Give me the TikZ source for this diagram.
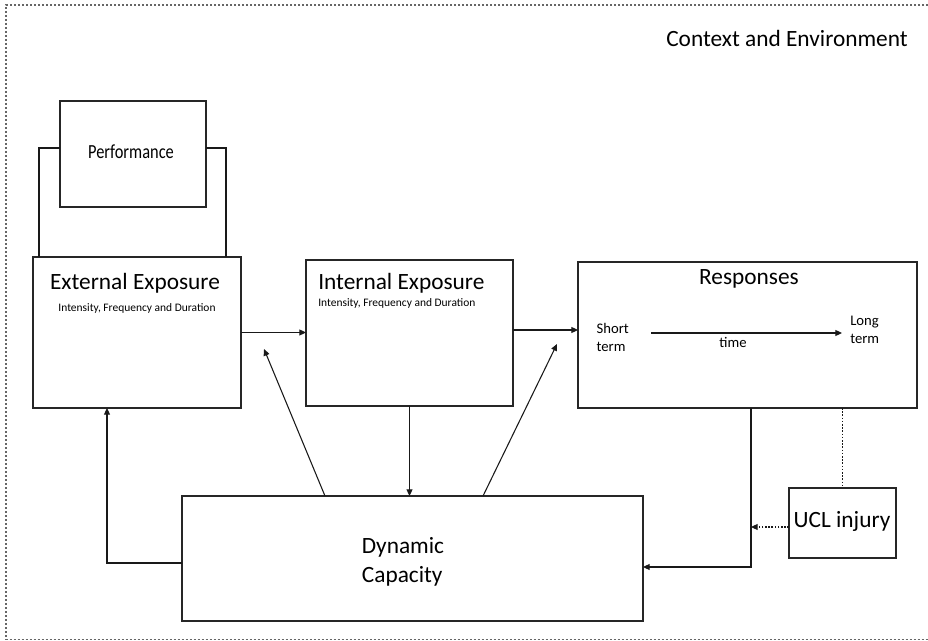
\documentclass[tikz,border=0pt]{standalone}
\usepackage{fontspec}
\setmainfont{Carlito}
\usetikzlibrary{arrows.meta,calc}
\begin{document}
\begin{tikzpicture}[x=0.75pt,y=-0.75pt,
  box/.style={draw=black!85,line width=0.8pt,inner sep=0pt,outer sep=0pt},
  big/.style={font=\fontsize{17.5}{21.75}\selectfont,inner sep=0pt},
  small/.style={font=\fontsize{8.6}{10}\selectfont,inner sep=0pt},
  mid/.style={font=\fontsize{11}{13.5}\selectfont,inner sep=0pt,align=left},
  conn/.style={line width=0.8pt,black!90},
  arr/.style={conn,-{Triangle[length=5pt,width=4.5pt]}},
  dotarr/.style={conn,dash pattern=on 1.2pt off 1.2pt,-{Triangle[length=5pt,width=4.5pt]}},
  dotline/.style={conn,dash pattern=on 1.2pt off 1.2pt},
  frame/.style={line width=0.8pt,black!60,dash pattern=on 1.5pt off 1.5pt}]
\useasboundingbox (0,0) rectangle (928,641);
\fill[white] (0,0) rectangle (928,641);
% outer frame
\draw[frame] (932,5) -- (6,5) -- (6,639.5) -- (932,639.5);
\node[big,anchor=base east] (ctx) at (908,47) {Context and Environment};

% boxes
\node[box,minimum width=109.5pt,minimum height=79.5pt] (perf) at (133,154) {};
\node[box,minimum width=156pt,minimum height=113.25pt] (ext) at (137,332.5) {};
\node[box,minimum width=155.25pt,minimum height=109.5pt] (int) at (409.5,333) {};
\node[box,minimum width=254.25pt,minimum height=109.5pt] (resp) at (747.5,335) {};
\node[box,minimum width=345.75pt,minimum height=93.75pt] (dyn) at (412.5,558.5) {};
\node[box,minimum width=80.25pt,minimum height=52.5pt] (ucl) at (842.5,523) {};

% texts
\node[font=\fontsize{15}{18}\selectfont,inner sep=0pt,anchor=base,xscale=0.82] (perft) at (131,159) {Performance};
\node[big,anchor=base] (extt) at (135,290) {External Exposure};
\node[small,anchor=base] (exts) at (137,312) {Intensity, Frequency and Duration};
\node[big,anchor=base west] (intt) at (318,290) {Internal Exposure};
\node[small,anchor=base west] (ints) at (318,307) {Intensity, Frequency and Duration};
\node[big,anchor=base] (respt) at (749,285) {Responses};
\node[mid] (short) at (612.7,337) {Short\\term};
\node[mid] (long) at (864.7,330) {Long\\term};
\node[mid,anchor=base] (time) at (733,348) {time};
\node[big,align=left] (dynt) at (403,562) {Dynamic\\Capacity};
\node[big,anchor=base] (uclt) at (842,527) {UCL injury};

% helper coordinates
\coordinate (bl) at (39,148);
\coordinate (br) at (226,148);
\coordinate (baseL) at (325,0);
\coordinate (tipL) at (264,349);
\coordinate (baseR) at (483,0);
\coordinate (tipR) at (557,344);
\coordinate (fbL) at (107,563);
\coordinate (fbR) at (751,567);
\coordinate (uy) at (0,527);
\coordinate (ta) at (651,333);
\coordinate (tb) at (842,333);
\coordinate (iy) at (0,330);

% performance bracket
\draw[conn] (bl |- ext.north) -- (bl) -- (bl -| perf.west);
\draw[conn] (br |- ext.north) -- (br) -- (br -| perf.east);

% connectors
\draw[arr] (ext.east) -- (int.west |- ext.east);
\draw[arr] (int.east |- iy) -- (resp.west |- iy);
\draw[arr] (int.south) -- (int.south |- dyn.north);
\draw[arr] (dyn.north -| baseL) -- (tipL);
\draw[arr] (dyn.north -| baseR) -- (tipR);
\draw[arr] (dyn.west |- fbL) -- (fbL) -- (fbL |- ext.south);
\draw[arr] (resp.south -| fbR) -- (fbR) -- (dyn.east |- fbR);
\draw[dotarr] (ucl.west |- uy) -- (fbR |- uy);
\draw[dotline] (resp.south -| ucl.north) -- (ucl.north);
\draw[arr] (ta) -- (tb);
\end{tikzpicture}
\end{document}
